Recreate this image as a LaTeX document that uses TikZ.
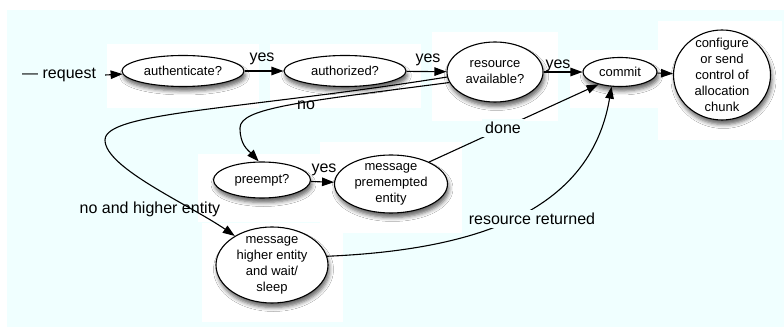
\documentclass[tikz,border=0pt]{standalone}
\usepackage{fontspec}
\setmainfont{Liberation Sans}
\usetikzlibrary{arrows.meta,shapes.geometric,shadows.blur}
\definecolor{bgcyan}{RGB}{240,255,255}
\tikzset{
  state/.style={ellipse, draw, line width=1.1pt, fill=white, inner sep=0pt,
    align=center, font=\fontsize{13}{16}\selectfont,
    blur shadow={shadow xshift=1.5pt, shadow yshift=-4.5pt,
      shadow blur radius=4pt, shadow opacity=60}},
  lbl/.style={font=\fontsize{16}{18}\selectfont, inner sep=0pt},
  cut/.style={lbl, fill=bgcyan, inner sep=3pt},
  arr/.style={line width=1.1pt, -{Triangle[length=12pt,width=8.5pt]}},
  pad/.style={fill=white},
}
\begin{document}
\begin{tikzpicture}[x=1pt,y=-1pt]
\useasboundingbox (0,0) rectangle (784,328);
% backdrop
\fill[bgcyan] (7,10) rectangle (784,327);
% white pads behind the states
\fill[pad] (107,44) rectangle (259,108);
\fill[pad] (270,44) rectangle (421,108);
\fill[pad] (432,32) rectangle (558,121);
\fill[pad] (570,50) rectangle (658,108);
\fill[pad] (658,21) rectangle (782,140);
\fill[pad] (198,154) rectangle (320,222);
\fill[pad] (320,142) rectangle (462,233);
\fill[pad] (202,223) rectangle (343,322);

% states
\node[state, minimum width=122pt, minimum height=31pt] (au) at (183,71) {authenticate?};
\node[state, minimum width=122pt, minimum height=31pt] (az) at (345,71) {authorized?};
\node[state, minimum width=96pt, minimum height=60pt] (rs) at (495,72) {resource\\available?};
\node[state, minimum width=74pt, minimum height=29pt] (cm) at (620,72) {commit};
\node[state, minimum width=97pt, minimum height=90pt, inner ysep=-6.5pt] (cf) at (722,75)
  {configure\\or send\\control of\\allocation\\chunk};
\node[state, minimum width=97pt, minimum height=36pt] (pr) at (262,180) {preempt?};
\node[state, minimum width=113pt, minimum height=58pt, inner ysep=-1.5pt] (pe) at (391,184)
  {message\\premempted\\entity};
\node[state, minimum width=112pt, minimum height=76pt, inner ysep=-3.5pt] (hi) at (272,265)
  {message\\higher entity\\and wait/\\sleep};

% entry label
\node[lbl, anchor=west] (rq) at (22,75) {— request};

% transitions
\draw[arr] ([xshift=9pt]rq.east) -- (au);
\draw[arr] (au) -- (az);
\draw[arr] (az) -- (rs);
\draw[arr] (rs) -- (cm);
\draw[arr] (cm) -- (cf);
\draw[arr] (pr) -- (pe);
\draw[arr] (pe.30) -- (cm.210);
\draw[arr] (hi.9) .. controls (470,250) and (590,215) .. (cm.240);
\draw[arr] (rs.186) .. controls (240,110) and (105,112) .. (105,140)
  .. controls (105,168) and (190,205) .. (hi.142);
\draw[arr] (rs.193) .. controls (300,102) and (240,108) .. (240,128)
  .. controls (240,145) and (248,150) .. (pr.100);

% transition labels
\node[lbl] (y1) at (262,59) {yes};
\node[lbl] (y2) at (428,60) {yes};
\node[lbl] (y3) at (558,66) {yes};
\node[lbl] (y4) at (324,170) {yes};
\node[lbl] (no) at (306,105) {no};
\node[cut] (dn) at (503,128) {done};
\node[lbl] (nh) at (150,209) {no and higher entity};
\node[cut] (rr) at (532,219) {resource returned};
\end{tikzpicture}
\end{document}
